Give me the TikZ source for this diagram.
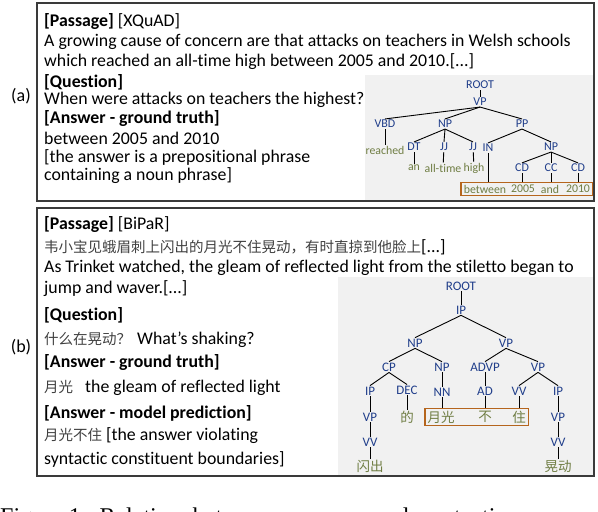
\documentclass[tikz,border=0pt]{standalone}
\usepackage{fontspec}
\setmainfont{Carlito}[Ligatures=NoCommon]
\newfontfamily\cjk{Noto Sans CJK SC}
\newfontfamily\capfont{Liberation Serif}
\usetikzlibrary{positioning,fit}
\definecolor{TreeBlue}  {HTML}{1F3D8A}
\definecolor{LeafOlive} {HTML}{6F7D43}
\definecolor{SpanOrange}{HTML}{B5651D}
\definecolor{PanelGray} {HTML}{F1F1F1}
\definecolor{FrameGray} {HTML}{3A3A3A}
\tikzset{
  frame/.style={draw=FrameGray,line width=1.3pt},
  panel/.style={fill=PanelGray,draw=none},
  txt/.style={anchor=west,inner sep=0pt,font=\fontsize{17.8}{20}\selectfont},
  lbl/.style={inner sep=0pt,font=\fontsize{18}{20}\selectfont},
  cat/.style={inner sep=1pt,font=\fontsize{#1}{13}\selectfont\color{TreeBlue}},
  cat/.default=12,
  leaf/.style={inner sep=1pt,font=\fontsize{11.8}{13}\selectfont\color{LeafOlive}},
  cjkleaf/.style={inner sep=1pt,font=\cjk\fontsize{13.5}{14}\selectfont\color{LeafOlive}},
  edge/.style={line width=0.9pt},
  span/.style={draw=SpanOrange,line width=1.4pt,inner xsep=1.5pt,inner ysep=1pt},
}
\newcommand{\zh}[1]{{\cjk\fontsize{14.5}{16}\selectfont\color{black!75}#1}}

\begin{document}
\begin{tikzpicture}[x=1pt,y=-1pt]
  \useasboundingbox (0,0) rectangle (598,512);
  \clip (0,0) rectangle (598,512);

  % grey panels behind the trees
  \fill[panel] (365,75) rectangle (594,201);
  \fill[panel] (338,277) rectangle (594,476);

  % frames
  \draw[frame] (37,3) rectangle (594,201);
  \draw[frame] (37,208) rectangle (594,476);

  \node[lbl] (laba) at (21,96)  {(a)};
  \node[lbl] (labb) at (21,347) {(b)};

  % (a) texts
  \node[txt] (ta1) at (44,22)  {\textbf{[Passage]} [XQuAD]};
  \node[txt] (ta2) at (44,42)  {A growing cause of concern are that attacks on teachers in Welsh schools};
  \node[txt] (ta3) at (44,62)  {which reached an all-time high between 2005 and 2010.[...]};
  \node[txt] (ta4) at (44,82)  {\textbf{[Question]}};
  \node[txt] (ta5) at (44,100) {When were attacks on teachers the highest?};
  \node[txt] (ta6) at (44,119) {\textbf{[Answer - ground truth]}};
  \node[txt] (ta7) at (44,138) {between 2005 and 2010};
  \node[txt] (ta8) at (44,157) {[the answer is a prepositional phrase};
  \node[txt] (ta9) at (44,176) {containing a noun phrase]};

  % (a) tree
  \node[cat] (aroot) at (480,85)  {ROOT};
  \node[cat] (avp)   at (480,102) {VP};
  \node[cat] (avbd)  at (385,124) {VBD};
  \node[cat] (anp)   at (445,124) {NP};
  \node[cat] (app)   at (522,124) {PP};
  \node[cat] (adt)   at (414,147) {DT};
  \node[cat] (ajja)  at (444,147) {JJ};
  \node[cat] (ajjb)  at (473,147) {JJ};
  \node[cat] (ain)   at (488,148) {IN};
  \node[cat] (anpb)  at (551,147) {NP};
  \node[cat] (acda)  at (522,168) {CD};
  \node[cat] (acc)   at (551,168) {CC};
  \node[cat] (acdb)  at (578,168) {CD};

  \node[leaf] (areached) at (385,150) {reached};
  \node[leaf] (aan)      at (414,168) {an};
  \node[leaf] (aalltime) at (443,168) {all-time};
  \node[leaf] (ahigh)    at (474,168) {high};
  \node[leaf] (abetween) at (485,189) {between};
  \node[leaf] (a2005)    at (523,189) {2005};
  \node[leaf] (aand)     at (550,189) {and};
  \node[leaf] (a2010)    at (578,189) {2010};
  \node[span,fit=(abetween)(a2010)] (aspan) {};

  \draw[edge] (aroot) -- (avp);
  \draw[edge] (avp.south) -- (avbd.north);
  \draw[edge] (avp.south) -- (anp.north);
  \draw[edge] (avp.south) -- (app.north);
  \draw[edge] (avbd) -- (areached);
  \draw[edge] (anp.south) -- (adt.north);
  \draw[edge] (anp.south) -- (ajja.north);
  \draw[edge] (anp.south) -- (ajjb.north);
  \draw[edge] (app.south) -- (ain.north);
  \draw[edge] (app.south) -- (anpb.north);
  \draw[edge] (adt) -- (aan);
  \draw[edge] (ajja) -- (aalltime);
  \draw[edge] (ajjb) -- (ahigh);
  \draw[edge] (anpb.south) -- (acda.north);
  \draw[edge] (anpb.south) -- (acc.north);
  \draw[edge] (anpb.south) -- (acdb.north);
  \draw[edge] (ain.south) -- (ain.south |- aspan.north);
  \draw[edge] (acda) -- (acda |- aspan.north);
  \draw[edge] (acc) -- (acc |- aspan.north);
  \draw[edge] (acdb) -- (acdb |- aspan.north);

  % (b) texts
  \node[txt] (tb1)  at (44,225) {\textbf{[Passage]} [BiPaR]};
  \node[txt] (tb2)  at (44,247) {\zh{韦小宝见蛾眉刺上闪出的月光不住晃动，有时直掠到他脸上}[...]};
  \node[txt] (tb3)  at (44,268) {As Trinket watched, the gleam of reflected light from the stiletto began to};
  \node[txt] (tb4)  at (44,289) {jump and waver.[...]};
  \node[txt] (tb5)  at (44,315) {\textbf{[Question]}};
  \node[txt] (tb6)  at (44,340) {\zh{什么在晃动？}\hspace{6pt}What's shaking?};
  \node[txt] (tb7)  at (44,363) {\textbf{[Answer - ground truth]}};
  \node[txt] (tb8)  at (44,388) {\zh{月光}\hspace{12pt}the gleam of reflected light};
  \node[txt] (tb9)  at (44,413) {\textbf{[Answer - model prediction]}};
  \node[txt] (tb10) at (44,436) {\zh{月光不住} [the answer violating};
  \node[txt] (tb11) at (44,459) {syntactic constituent boundaries]};

  % (b) tree
  \node[cat=13] (broot)  at (461,286) {ROOT};
  \node[cat=13] (bip)    at (461,310) {IP};
  \node[cat=13] (bnp)    at (415,343) {NP};
  \node[cat=13] (bvp)    at (506,343) {VP};
  \node[cat=13] (bcp)    at (389,367) {CP};
  \node[cat=13] (bnpb)   at (442,367) {NP};
  \node[cat=13] (badvp)  at (485,367) {ADVP};
  \node[cat=13] (bvpb)   at (538,367) {VP};
  \node[cat=13] (bipa)   at (370,391) {IP};
  \node[cat=13] (bdec)   at (407,390) {DEC};
  \node[cat=13] (bnn)    at (442,392) {NN};
  \node[cat=13] (bad)    at (485,391) {AD};
  \node[cat=13] (bvv)    at (519,391) {VV};
  \node[cat=13] (bipb)   at (558,391) {IP};
  \node[cat=13] (bvpa)   at (370,417) {VP};
  \node[cat=13] (bvpc)   at (558,417) {VP};
  \node[cat=13] (bvva)   at (370,442) {VV};
  \node[cat=13] (bvvb)   at (558,442) {VV};

  \node[cjkleaf] (bde)        at (407,417) {的};
  \node[cjkleaf] (byueguang)  at (441,417) {月光};
  \node[cjkleaf] (bbu)        at (485,417) {不};
  \node[cjkleaf] (bzhu)       at (519,417) {住};
  \node[cjkleaf] (bshanchu)   at (370,466) {闪出};
  \node[cjkleaf] (bhuangdong) at (558,466) {晃动};
  \node[span,fit=(byueguang)(bzhu)] (bspan) {};

  \draw[edge] (broot) -- (bip);
  \draw[edge] (bip.south) -- (bnp.north);
  \draw[edge] (bip.south) -- (bvp.north);
  \draw[edge] (bnp.south) -- (bcp.north);
  \draw[edge] (bnp.south) -- (bnpb.north);
  \draw[edge] (bvp.south) -- (badvp.north);
  \draw[edge] (bvp.south) -- (bvpb.north);
  \draw[edge] (bcp.south) -- (bipa.north);
  \draw[edge] (bcp.south) -- (bdec.north);
  \draw[edge] (bnpb) -- (bnn);
  \draw[edge] (badvp) -- (bad);
  \draw[edge] (bvpb.south) -- (bvv.north);
  \draw[edge] (bvpb.south) -- (bipb.north);
  \draw[edge] (bipa) -- (bvpa);
  \draw[edge] (bvpa) -- (bvva);
  \draw[edge] (bvva) -- (bshanchu);
  \draw[edge] (bdec) -- (bde);
  \draw[edge] (bnn) -- (bnn |- bspan.north);
  \draw[edge] (bad) -- (bad |- bspan.north);
  \draw[edge] (bvv) -- (bvv |- bspan.north);
  \draw[edge] (bipb) -- (bvpc);
  \draw[edge] (bvpc) -- (bvvb);
  \draw[edge] (bvvb) -- (bhuangdong);

  % caption, cut by the page edge
  \node[anchor=base west,inner sep=0pt,font=\capfont\fontsize{24}{26}\selectfont]
    (cap) at (0,524) {Figure 1:\ \ Relation\ \ between\ \ answers\ \ and\ \ syntactic};
\end{tikzpicture}
\end{document}
